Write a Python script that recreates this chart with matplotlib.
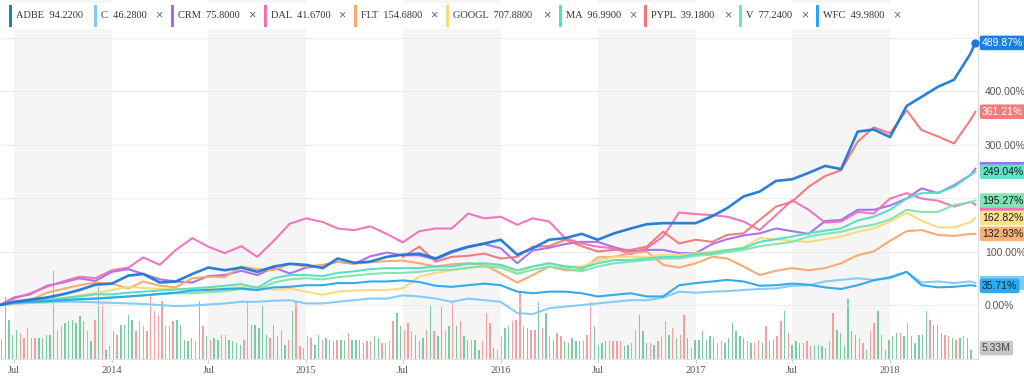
import numpy as np
import pandas as pd
import matplotlib
matplotlib.use('Agg')
import matplotlib.pyplot as plt
from matplotlib.patches import Rectangle
from matplotlib.transforms import blended_transform_factory

plt.rcParams['font.family'] = ['Liberation Sans', 'DejaVu Sans']

# ---- data: % change since start, monthly samples ----
dates = pd.to_datetime(['2013-06-05'] + [d.strftime('%Y-%m-%d') for d in
                        pd.date_range('2013-07-01', '2018-06-01', freq='MS')] + ['2018-06-10'])
nan = np.nan

adbe = [0, 6, 10, 14, 20, 28, 38, 40, 55, 58, 42, 44, 58,
        70, 65, 70, 62, 72, 77, 75, 69, 87, 79, 81, 90,
        94, 96, 87, 100, 109, 115, 122, 94, 106, 122, 125, 133,
        122, 134, 143, 151, 153, 153, 153, 166, 181, 203, 212, 232,
        235, 247, 260, 254, 324, 328, 314, 372, 389, 408, 421, 470,
        489.87]
c = [0, 2, 4, 5, 6, 6, 5, 4, 3, 2, 0, -2, -1,
     1, 3, 6, 6, 8, 9, 3, 3, 6, 9, 12, 12,
     18, 16, 12, 6, 12, 9, 6, -15, -17, -6, -3, 0,
     3, 6, 9, 9, 14, 25, 23, 25, 26, 28, 30, 31,
     36, 37, 44, 47, 50, 47, 50, 62, 42, 44, 41, 44,
     40.8]
crm = [0, 14, 20, 36, 42, 50, 45, 62, 67, 58, 48, 44, 42,
       54, 56, 64, 56, 70, 59, 70, 74, 81, 77, 91, 98,
       93, 93, 85, 98, 108, 114, 106, 78, 102, 107, 114, 118,
       118, 108, 100, 103, 103, 97, 97, 114, 123, 130, 134, 143,
       138, 133, 157, 159, 178, 178, 186, 199, 218, 209, 224, 243,
       254.7]
dal = [0, 12, 22, 34, 44, 53, 50, 65, 70, 89, 75, 103, 125,
       109, 97, 110, 90, 120, 152, 162, 155, 143, 140, 147, 133,
       117, 138, 143, 143, 171, 162, 165, 150, 162, 156, 125, 115,
       109, 106, 95, 106, 128, 173, 170, 168, 165, 156, 140, 168,
       196, 178, 154, 156, 174, 171, 199, 209, 199, 195, 184, 193,
       187.4]
flt = [0, 2, 9, 23, 30, 37, 42, 40, 31, 44, 36, 33, 50,
       53, 52, 72, 67, 65, 77, 72, 75, 81, 77, 80, 82,
       83, 78, 72, 76, 78, 75, 59, 42, 56, 72, 65, 65,
       89, 90, 97, 100, 75, 70, 78, 90, 87, 72, 56, 64,
       69, 65, 69, 78, 93, 100, 120, 138, 140, 131, 129, 133,
       132.93]
googl = [0, 2, 5, 8, 12, 18, 22, 28, 34, 32, 30, 30, 28,
         30, 31, 33, 34, 28, 31, 25, 19, 25, 27, 28, 28,
         31, 53, 60, 65, 69, 74, 75, 60, 72, 78, 72, 72,
         83, 90, 90, 90, 94, 94, 97, 100, 103, 108, 125, 123,
         120, 118, 123, 128, 137, 143, 156, 172, 158, 145, 145, 155,
         162.82]
ma = [0, 5, 8, 10, 13, 16, 20, 20, 23, 25, 27, 29, 31,
      33, 36, 39, 32, 50, 56, 56, 54, 60, 63, 67, 69,
      69, 69, 72, 72, 77, 78, 75, 65, 72, 78, 72, 69,
      78, 84, 84, 87, 90, 90, 95, 97, 102, 106, 118, 123,
      128, 134, 139, 143, 158, 165, 178, 199, 209, 210, 221, 243,
      249.04]
pypl = [nan] * 25 + [
        90, 109, 81, 90, 92, 96, 87, 90, 109, 110, 122, 110,
        100, 103, 103, 109, 137, 115, 122, 118, 131, 134, 159, 184,
        193, 221, 241, 252, 305, 332, 321, 364, 327, 315, 302, 346,
        361.21]
v = [0, 3, 5, 6, 8, 10, 12, 14, 16, 18, 20, 22, 22,
     24, 26, 30, 28, 42, 48, 50, 48, 52, 55, 58, 60,
     60, 62, 66, 66, 70, 72, 70, 58, 66, 72, 68, 63,
     72, 78, 81, 84, 87, 87, 92, 94, 99, 103, 110, 114,
     118, 128, 133, 137, 145, 150, 160, 178, 174, 174, 187, 192,
     195.27]
wfc = [0, 4, 6, 7, 9, 11, 12, 14, 16, 18, 21, 23, 27,
       28, 30, 31, 28, 33, 34, 37, 37, 41, 41, 44, 44,
       46, 43, 36, 34, 37, 40, 37, 25, 22, 25, 25, 22,
       16, 19, 22, 16, 16, 37, 41, 44, 47, 44, 36, 37,
       40, 38, 33, 30, 37, 46, 52, 62, 37, 33, 34, 37,
       35.71]

symbols = ['ADBE', 'C', 'CRM', 'DAL', 'FLT', 'GOOGL', 'MA', 'PYPL', 'V', 'WFC']
prices = ['94.2200', '46.2800', '75.8000', '41.6700', '154.6800',
          '707.8800', '96.9900', '39.1800', '77.2400', '49.9800']
series = [adbe, c, crm, dal, flt, googl, ma, pypl, v, wfc]
colors = ['#1e78d6', '#80caf4', '#a56cf0', '#f070b8', '#f6a86c',
          '#f9d97a', '#52dfc2', '#f27676', '#7ce4ad', '#29a6ee']

# weekly volume (millions) and up/down flag
volume = [12.0, 37, 23.6, 14.6, 17.6, 15.6, 12.6, 18.6, 12.6, 12.6,
          12.6, 12.6, 14.6, 14.6, 53, 17.6, 19.6, 21.6, 22.6, 23.6,
          21.6, 25.6, 22.6, 16.6, 10.6, 23.6, 43, 34, 5.6, 7.6,
          16.6, 14.6, 20.6, 20.6, 26.6, 23.6, 16.6, 22.6, 19.6, 16.6,
          38, 28.6, 26.6, 35, 19.6, 19.6, 22.6, 23.6, 20.6, 11.6,
          10.6, 12.6, 10.6, 35, 19.6, 13.6, 11.6, 12.6, 11.6, 14.6,
          14.6, 11.6, 10.6, 9.6, 8.6, 11.6, 35, 20.6, 20.6, 18.6,
          32, 14.6, 12.6, 20.6, 13.6, 17.6, 8.6, 11.6, 28.6, 35,
          7.6, 6.6, 13.6, 12.6, 8.6, 14.6, 11.6, 12.6, 11.6, 10.6,
          11.6, 11.6, 11.6, 15.6, 11.6, 11.6, 11.6, 9.6, 10.6, 10.6,
          13.6, 12.6, 9.6, 9.6, 10.6, 22.6, 27.6, 19.6, 17.6, 21.6,
          16.6, 14.6, 10.6, 12.6, 17.6, 31.6, 16.6, 13.6, 31, 16.6,
          19.6, 34, 19.6, 22.6, 13.6, 11.6, 11.6, 11.6, 5.6, 10.6,
          27.6, 21.6, 6.6, 5.6,
          13.6, 18.6, 19.6, 22.6, 23.6, 41, 19.6, 18.6, 17.6, 17.6,
          34, 18.6, 27.6, 13.6, 11.6, 15.6, 13.6, 10.6, 9.6, 12.6,
          10.6, 10.6, 10.6, 14.6, 34, 19.6, 8.6, 9.6, 10.6, 11.6,
          10.6, 10.6, 10.6, 7.6, 8.6, 9.6, 17.6, 26.6, 16.6, 9.6,
          9.6, 8.6, 10.6, 13.6, 22.6, 14.6, 18.6, 12.6, 14.6, 26.6,
          12.6, 6.6, 11.6, 11.6, 16.6, 11.6, 13.6, 12.6, 9.6, 10.6,
          9.6, 12.6, 21.6, 16.6, 13.6, 12.6, 10.6, 9.6, 9.6, 11.6,
          9.6, 19.6, 10.6, 11.6, 13.6, 22.6, 28.6, 15.6, 8.6, 10.6,
          9.6, 9.6, 10.6, 7.6, 8.6, 8.6, 7.6, 6.6, 10.6, 27.6,
          17.6, 15.6, 7.6, 36, 16.6, 14.6, 12.6, 9.6, 5.6, 16.6,
          21.6, 28.6, 14.6, 5.6, 11.6, 13.6, 15.6, 15.6, 13.6, 21.6,
          13.6, 9.6, 14.6, 14.6, 28.6, 23.6, 20.6, 20.6, 15.6, 14.6,
          13.6, 12.6, 11.6, 12.6, 13.6, 12.6, 5.33]
updown = ('rggggrrrrr' 'gggggrrggg' 'gggrgrgrgr' 'grggggrrrr' 'rrrrrrrggg'
          'ggrgrgrggr' 'rggggrrggg' 'ggrggrgrgr' 'rrrrggrggg' 'rggrggggrr'
          'ggrrrrggrr' 'rgggrgrggr' 'grgrggrggr' 'rrgr'
          'rggrrrggrr' 'grgrgrrggg' 'ggrrrggggr' 'rrrggrrggg' 'rgrrrgrgrr'
          'grggggggrr' 'ggggggrgrr' 'grggrrgrgg' 'grrrggggrr' 'ggggggrrgr'
          'rgrggggrgr' 'gggggrgggr' 'rgrgrgg')
vol_dates = pd.date_range('2013-06-08', periods=len(volume), freq='7D')

tick_dates = pd.to_datetime(['2013-07-01', '2014-01-01', '2014-07-01', '2015-01-01',
                             '2015-07-01', '2016-01-01', '2016-07-01', '2017-01-01',
                             '2017-07-01', '2018-01-01'])
tick_labels = ['Jul', '2014', 'Jul', '2015', 'Jul', '2016', 'Jul', '2017', 'Jul', '2018']

# ---- figure ----
W, H = 1024, 384
fig = plt.figure(figsize=(W / 100, H / 100), dpi=100)
fig.patch.set_facecolor('white')

rect = [0, 1 - 359 / H, 978 / W, 359 / H]
axv = fig.add_axes(rect)
ax = fig.add_axes(rect, sharex=axv)
ax.set_facecolor('none')

# half-year shading
for yr in range(2013, 2018):
    axv.axvspan(pd.Timestamp(f'{yr}-07-01'), pd.Timestamp(f'{yr + 1}-01-01'),
                color='#f5f5f5', lw=0, zorder=0)

bar_cols = ['#5cc08e' if s == 'g' else '#f08a8a' for s in updown]
axv.bar(vol_dates, volume, width=2.6, color=bar_cols, alpha=0.8, lw=0, zorder=2)
axv.set_ylim(0, 359 * 0.6)
axv.set_yticks([])
for s in ['top', 'left', 'right']:
    axv.spines[s].set_visible(False)
axv.spines['bottom'].set_color('#e2e2e2')
axv.set_xticks(tick_dates)
axv.set_xticklabels(tick_labels, fontfamily='Liberation Serif')
axv.tick_params(axis='x', length=3, color='#d0d0d0', labelsize=7.5,
                labelcolor='#555555', pad=2)
axv.set_xlim(pd.Timestamp('2013-06-05'), pd.Timestamp('2018-06-15'))

# price lines
ax.set_ylim(-100.9, 570.1)
order = [1, 2, 3, 4, 5, 6, 8, 9, 7, 0]
for i in order:
    ax.plot(dates, series[i], color=colors[i], lw=1.9 if i == 0 else 1.5,
            alpha=0.95, solid_joinstyle='round', zorder=3)
ax.plot(dates[-1:], adbe[-1:], 'o', ms=5, color=colors[0], clip_on=False, zorder=4)

# grid every 100 %, labels only where the badges leave room
ax.yaxis.tick_right()
ax.set_yticks([0, 100, 200, 300, 400, 500])
ax.set_yticklabels([f'{t:.2f}%' if t in (0, 100, 300, 400) else ''
                    for t in [0, 100, 200, 300, 400, 500]])
ax.tick_params(axis='y', length=0, pad=5, labelsize=7.5, labelcolor='#555555')
ax.tick_params(axis='x', bottom=False, labelbottom=False)
ax.grid(axis='y', color='#ececec', lw=0.8)
for s in ['top', 'left', 'bottom']:
    ax.spines[s].set_visible(False)
ax.spines['right'].set_color('#dcdcdc')

# value badges on the right
tr = blended_transform_factory(ax.transAxes, ax.transData)
badge_fc = {0: '#1a7fe3', 7: '#f47c7c', 2: '#a56cf0', 6: '#5ee3c6', 3: '#f070b8',
            8: '#7fe6b3', 5: '#fde28a', 4: '#f7b27a', 1: '#80caf4', 9: '#2aaaf0'}
px_per_pct = 359 / (570.1 + 100.9)

# badges covered by others: only the coloured edge shows
for k in [2, 3, 1]:
    val = series[k][-1]
    half = 6.8 / px_per_pct
    ax.add_patch(Rectangle((979.5 / 978, val - half), (1024 - 979.5) / 978, 2 * half,
                           transform=tr, fc=badge_fc[k], ec='none', clip_on=False, zorder=9))

badges = [(6, '#1a1a1a'), (8, '#1a1a1a'), (5, '#1a1a1a'), (4, '#1a1a1a'),
          (9, '#0d2a40'), (7, 'white'), (0, 'white')]
for k, tc in badges:
    val = series[k][-1]
    ax.text(982 / 978, val, f'{val:.2f}%', transform=tr, ha='left', va='center',
            fontsize=7.5, color=tc, clip_on=False, zorder=10,
            bbox=dict(boxstyle='round,pad=0.22,rounding_size=0.2',
                      fc=badge_fc[k], ec='none'))

trv = blended_transform_factory(axv.transAxes, axv.transData)
axv.text(982 / 978, volume[-1] + 1.2, f'{volume[-1]:.2f}M', transform=trv,
         ha='left', va='center', fontsize=7.5, color='#444444', clip_on=False,
         zorder=10, bbox=dict(boxstyle='round,pad=0.22,rounding_size=0.2',
                              fc='#c8c8cc', ec='none'))

# legend chips along the top
fig.add_artist(Rectangle((0, 1 - 29 / H), 977 / W, 26 / H, transform=fig.transFigure,
                         fc='white', ec='none', zorder=5))
chip_x = [9, 94, 171, 264, 354, 446, 559, 644, 739, 816]
close_x = [None, 159, 252, 342, 434, 547, 633, 728, 805, 897]
for i, sym in enumerate(symbols):
    x0 = chip_x[i]
    fig.add_artist(Rectangle((x0 / W, 1 - 27 / H), 3 / W, 22 / H,
                             transform=fig.transFigure, fc=colors[i], ec='none', zorder=6))
    fig.text((x0 + 7) / W, 1 - 15.5 / H, f'{sym}  {prices[i]}', ha='left', va='center',
             fontsize=7.5, color='#333333', fontfamily='Liberation Serif', zorder=7)
    if close_x[i] is not None:
        fig.text(close_x[i] / W, 1 - 15.5 / H, '×', ha='center', va='center',
                 fontsize=9, color='#666666', zorder=7)

fig.savefig('out.png', dpi=100)
